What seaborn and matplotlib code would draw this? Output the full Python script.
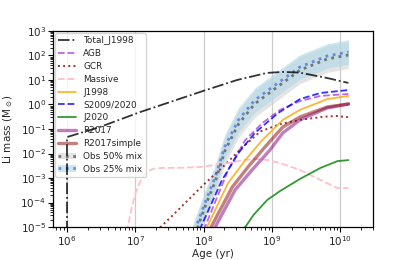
import numpy as np
import pandas as pd
import matplotlib
matplotlib.use("Agg")
import matplotlib.pyplot as plt
import seaborn as sns
from matplotlib.patches import Patch
from matplotlib.lines import Line2D

# ---- data (log10 age [yr], log10 Li mass [Msun]) ----
total_logt = [6.0, 6.0, 6.48, 7.07, 7.51, 7.99, 8.49, 8.93, 9.16, 9.41, 9.81, 10.12]
total_logm = [-6.0, -1.33, -0.92, -0.31, 0.10, 0.55, 1.00, 1.29, 1.33, 1.30, 1.08, 0.88]

agb_logt = [7.95, 8.02, 8.36, 8.61, 8.86, 9.12, 9.41, 9.71, 10.12]
agb_logm = [-5.5, -5.0, -2.67, -1.45, -0.76, -0.22, 0.14, 0.35, 0.43]

gcr_logt = [7.25, 7.37, 7.60, 7.99, 8.30, 8.55, 8.83, 9.12, 9.41, 9.75, 9.95, 10.12]
gcr_logm = [-5.3, -5.0, -4.38, -3.30, -2.50, -1.80, -1.10, -0.80, -0.63, -0.50, -0.47, -0.52]

massive_logt = [6.85, 6.89, 6.94, 7.00, 7.04, 7.09, 7.14, 7.20, 7.27, 7.40, 7.70, 7.95,
                8.30, 8.58, 8.78, 8.95, 9.12, 9.41, 9.71, 9.96, 10.12]
massive_logm = [-5.6, -5.0, -4.3, -3.65, -3.35, -3.02, -2.84, -2.70, -2.62, -2.59, -2.58, -2.55,
                -2.42, -2.27, -2.22, -2.27, -2.39, -2.67, -3.08, -3.41, -3.41]

j1998_logt = [7.98, 8.05, 8.36, 8.61, 8.86, 9.16, 9.41, 9.81, 10.12]
j1998_logm = [-5.5, -5.0, -3.20, -2.27, -1.45, -0.63, -0.22, 0.22, 0.35]

s2009_logt = [7.90, 7.96, 8.27, 8.51, 8.75, 9.09, 9.41, 9.71, 10.12]
s2009_logm = [-5.5, -5.0, -3.08, -1.98, -1.16, -0.35, 0.22, 0.47, 0.59]

j2020_logt = [8.55, 8.61, 8.73, 8.93, 9.12, 9.41, 9.71, 9.96, 10.12]
j2020_logm = [-5.35, -5.0, -4.51, -3.90, -3.53, -3.04, -2.59, -2.31, -2.27]

r2017_logt = [8.10, 8.17, 8.46, 8.71, 8.97, 9.16, 9.41, 9.81, 10.12]
r2017_logm = [-5.5, -5.0, -3.49, -2.67, -1.86, -1.16, -0.63, -0.14, 0.02]

r2017s_logt = [8.04, 8.11, 8.42, 8.65, 8.90, 9.16, 9.41, 9.81, 10.12]
r2017s_logm = [-5.5, -5.0, -3.37, -2.55, -1.73, -0.92, -0.51, -0.10, 0.02]

obs_logt = [7.80, 7.89, 8.03, 8.17, 8.31, 8.51, 8.75, 9.09, 9.41, 9.81, 10.12]
obs25_logm = [-5.7, -5.0, -3.95, -2.96, -1.73, -0.63, 0.18, 0.88, 1.53, 1.98, 2.14]
obs25_lo = [-6.2, -5.5, -4.45, -3.46, -2.23, -1.13, -0.32, 0.38, 1.03, 1.48, 1.64]
obs25_hi = [-5.2, -4.5, -3.45, -2.46, -1.23, -0.13, 0.68, 1.38, 2.03, 2.48, 2.64]
obs50_logm = [-5.9, -5.2, -4.10, -3.15, -1.90, -0.80, 0.03, 0.74, 1.40, 1.86, 2.02]
obs50_lo = [-6.45, -5.75, -4.65, -3.70, -2.45, -1.35, -0.52, 0.19, 0.85, 1.31, 1.47]
obs50_hi = [-5.35, -4.65, -3.55, -2.60, -1.35, -0.25, 0.58, 1.29, 1.95, 2.41, 2.57]

x_ticks = [1e6, 1e7, 1e8, 1e9, 1e10]


def df(logt, logm):
    return pd.DataFrame({"t": 10.0 ** np.asarray(logt), "m": 10.0 ** np.asarray(logm)})


sns.set_style("white")
plt.rcParams["font.family"] = ["DejaVu Sans"]

fig = plt.figure(figsize=(4.15, 2.60), dpi=100)
ax = fig.add_axes([0.1277, 0.1269, 0.7711, 0.7539])
ax.set_xscale("log")
ax.set_yscale("log")

# observational bands
t_obs = 10.0 ** np.asarray(obs_logt)
ax.fill_between(t_obs, 10.0 ** np.asarray(obs50_lo), 10.0 ** np.asarray(obs50_hi),
                color="lightgray", alpha=0.6, lw=0, zorder=1)
ax.fill_between(t_obs, 10.0 ** np.asarray(obs25_lo), 10.0 ** np.asarray(obs25_hi),
                color="lightblue", alpha=0.6, lw=0, zorder=1)

series = [
    ("Total_J1998", total_logt, total_logm, dict(color="k", linestyle="-.", lw=1.3, alpha=0.8)),
    ("AGB", agb_logt, agb_logm, dict(color="darkviolet", linestyle="--", lw=1.3, alpha=0.6)),
    ("GCR", gcr_logt, gcr_logm, dict(color="darkred", linestyle=":", lw=1.4, alpha=0.8)),
    ("Massive", massive_logt, massive_logm, dict(color="pink", linestyle="--", lw=1.3)),
    ("J1998", j1998_logt, j1998_logm, dict(color="orange", linestyle="-", lw=1.3, alpha=0.8)),
    ("S2009/2020", s2009_logt, s2009_logm, dict(color="blue", linestyle="--", lw=1.3, alpha=0.8)),
    ("J2020", j2020_logt, j2020_logm, dict(color="green", linestyle="-", lw=1.3, alpha=0.8)),
    ("R2017", r2017_logt, r2017_logm, dict(color="purple", linestyle="-", lw=2.4, alpha=0.5)),
    ("R2017simple", r2017s_logt, r2017s_logm, dict(color="darkred", linestyle="-", lw=2.4, alpha=0.5)),
    ("Obs 50% mix", obs_logt, obs50_logm, dict(color="dimgray", linestyle=":", lw=2.0, alpha=0.9)),
    ("Obs 25% mix", obs_logt, obs25_logm, dict(color="royalblue", linestyle=":", lw=2.0, alpha=0.7)),
]

handles = []
labels = []
for name, lt, lm, kw in series:
    z = 6 if name == "Total_J1998" else 2
    sns.lineplot(data=df(lt, lm), x="t", y="m", ax=ax, estimator=None, sort=False, zorder=z, **kw)
    h = Line2D([], [], **kw)
    if name == "Obs 50% mix":
        h = (Patch(facecolor="lightgray", alpha=0.6, lw=0), h)
    elif name == "Obs 25% mix":
        h = (Patch(facecolor="lightblue", alpha=0.6, lw=0), h)
    handles.append(h)
    labels.append(name)

ax.set_xlim(10 ** 5.795, 10 ** 10.48)
ax.set_ylim(1e-5, 1e3)
ax.set_xticks(x_ticks)
ax.grid(axis="x", which="major", color="#cccccc", lw=0.9)
ax.grid(axis="y", visible=False)
for s in ax.spines.values():
    s.set_color("black")
    s.set_linewidth(0.9)
    s.set_zorder(7)
ax.tick_params(axis="both", which="major", labelsize=7.5, length=3.5, width=0.8, pad=1.5,
               bottom=True, left=True, color="black")
ax.tick_params(axis="both", which="minor", length=2, width=0.6, bottom=True, left=True, color="black")
ax.set_xlabel("Age (yr)", fontsize=7.5, labelpad=1)
ax.set_ylabel(r"Li mass (M$_\odot$)", fontsize=7.5, labelpad=4)

leg = ax.legend(handles=handles, labels=labels, loc="upper left", fontsize=6.4, labelspacing=0.43,
                handlelength=2.0, borderaxespad=0.2, framealpha=0.8, edgecolor="#cccccc",
                fancybox=True, borderpad=0.4)
leg.set_zorder(5)

fig.savefig("out.png", dpi=100)
